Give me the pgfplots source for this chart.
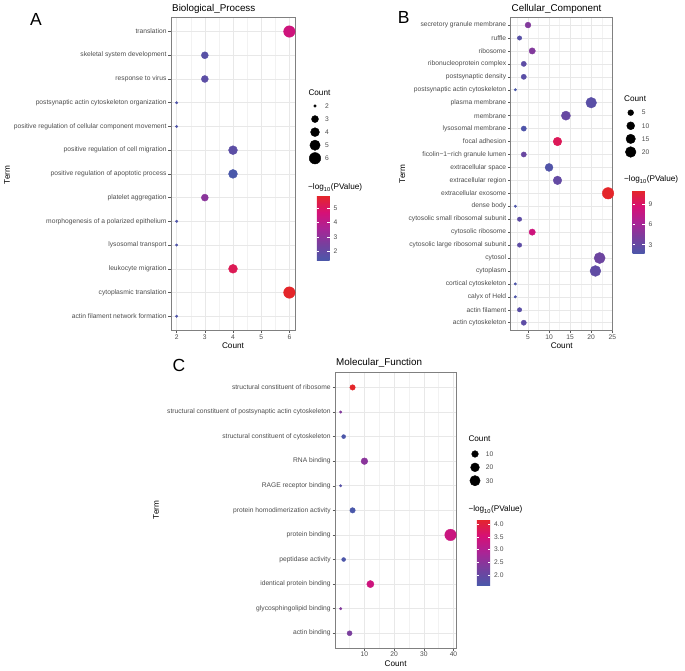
\documentclass[border=0pt]{standalone}
\usepackage{pgfplots}
\pgfplotsset{compat=1.18}
\usepackage{fontspec}
\setmainfont{Liberation Sans}
\usetikzlibrary{calc}

\pgfplotsset{
  colormap={gocol}{rgb255=(74,88,170) rgb255=(118,64,158) rgb255=(170,36,150) rgb255=(214,16,118) rgb255=(228,38,42)},
  gopanel/.style={
    scale only axis, enlargelimits=false, clip=false, anchor=south west,
    axis line style={draw=black!50, line width=0.6pt},
    tick align=outside, xtick pos=bottom, ytick pos=left,
    major tick length=2.7pt, minor tick length=0pt,
    tick style={draw=black!65, line width=0.5pt},
    xmajorgrids, xminorgrids, ymajorgrids,
    major grid style={draw=black!9, line width=0.55pt},
    minor grid style={draw=black!5, line width=0.3pt},
    ticklabel style={font=\fontsize{6.7}{8}\selectfont, text=black!70},
    xticklabel style={anchor=base, inner sep=0pt, yshift=-6pt},
    yticklabel style={anchor=east, inner sep=0pt, xshift=-1.6pt},
    /pgf/number format/assume math mode=true,
    xlabel=Count,
    xlabel style={at={(axis description cs:0.5,0)}, anchor=base, inner sep=0pt, yshift=-18.5pt, font=\fontsize{8.2}{10}\selectfont},
    colormap name=gocol,
  },
  gobar/.style={
    anchor=north west, scale only axis,
    axis line style={draw=none},
    ytick pos=both, yticklabel pos=right,
    tick align=inside, major tick length=2.5pt,
    tick style={draw=white, line width=0.5pt},
    yticklabel style={anchor=west, inner sep=0pt, xshift=3.8pt, font=\fontsize{6.7}{8}\selectfont, text=black!70},
    /pgf/number format/assume math mode=true,
  },
  % dot radius grows with sqrt of the rescaled count, as ggplot's scale_size
  bubblesize/.style 2 args={
    visualization depends on={\thisrow{count} \as \cnt},
    scatter/@pre marker code/.append style={/tikz/mark size={1.25+4.5*sqrt((\cnt-#1)/(#2-#1))}},
  },
  bubbles/.style 2 args={
    scatter, only marks, mark=*,
    scatter/use mapped color={draw=mapped color, fill=mapped color},
    bubblesize={#1}{#2},
  },
  keydots/.style 2 args={
    scatter, only marks, mark=*,
    scatter/use mapped color={draw=black, fill=black},
    bubblesize={#1}{#2},
  },
  sizekey/.style={
    hide axis, scale only axis, clip=false, enlargelimits=false, anchor=north west,
    xmin=0, xmax=1, width=10pt, y dir=reverse,
  },
  keylabels/.style={
    draw=none, mark=none, nodes near coords, point meta=\thisrow{count},
    every node near coord/.style={anchor=west, inner sep=0pt, xshift=#1, font=\fontsize{6.7}{8}\selectfont, text=black!70},
    /pgf/number format/assume math mode=true,
  },
}

\begin{document}
\begin{tikzpicture}
\useasboundingbox (0,0) rectangle (685pt,671pt);

% ---- A: Biological_Process
\begin{axis}[gopanel, at={(171pt,340.5pt)}, width=124pt, height=313.2pt,
  xmin=1.8, xmax=6.2, ymin=0.4, ymax=13.6,
  xtick={2,3,4,5,6}, minor xtick={2.5,3.5,4.5,5.5},
  ytick={1,...,13},
  yticklabels={actin filament network formation, cytoplasmic translation, leukocyte migration, lysosomal transport, morphogenesis of a polarized epithelium, platelet aggregation, positive regulation of apoptotic process, positive regulation of cell migration, positive regulation of cellular component movement, postsynaptic actin cytoskeleton organization, response to virus, skeletal system development, translation},
  point meta min=1.35, point meta max=5.83,
  colorbar, colorbar style={gobar, at={($(parent axis.north east)+(13.3pt,-178.7pt)$)}, width=12.7pt, height=64.7pt, ytick={2,3,4,5}}]
\addplot[bubbles={2}{6}, point meta=\thisrow{p}] table[x=count, y=y] {
y  count p
1  2  1.5
2  6  5.83
3  4  5.2
4  2  1.5
5  2  1.5
6  3  2.9
7  4  1.35
8  4  1.8
9  2  1.5
10 2  1.5
11 3  1.8
12 3  1.7
13 6  4.5
};
\end{axis}

% ---- B: Cellular_Component
\begin{axis}[gopanel, at={(510.7pt,340.5pt)}, width=102pt, height=313.2pt,
  xmin=0.9, xmax=25.1, ymin=0.4, ymax=24.6,
  xtick={5,10,15,20,25}, minor xtick={2.5,7.5,12.5,17.5,22.5},
  ytick={1,...,24},
  yticklabels={actin cytoskeleton, actin filament, calyx of Held, cortical cytoskeleton, cytoplasm, cytosol, cytosolic large ribosomal subunit, cytosolic ribosome, cytosolic small ribosomal subunit, dense body, extracellular exosome, extracellular region, extracellular space, ficolin−1−rich granule lumen, focal adhesion, lysosomal membrane, membrane, plasma membrane, postsynaptic actin cytoskeleton, postsynaptic density, ribonucleoprotein complex, ribosome, ruffle, secretory granule membrane},
  point meta min=1.63, point meta max=11.0,
  colorbar, colorbar style={gobar, at={($(parent axis.north east)+(11.3pt,-173.4pt)$)}, width=12pt, height=63.3pt, ytick={3,6,9}}]
\addplot[bubbles={2}{24}, point meta=\thisrow{p}] table[x=count, y=y] {
y  count p
1  4  2.7
2  3  2.5
3  2  1.8
4  2  1.8
5  21 2.8
6  22 3.5
7  3  2.7
8  6  8.2
9  3  2.7
10 2  1.8
11 24 11.0
12 12 3.0
13 10 2.0
14 4  3.3
15 12 9.6
16 4  1.9
17 14 3.2
18 20 2.5
19 2  1.63
20 4  2.5
21 4  2.7
22 6  4.5
23 3  2.3
24 5  4.5
};
\end{axis}

% ---- C: Molecular_Function
\begin{axis}[gopanel, at={(335.2pt,23pt)}, width=120.8pt, height=275.3pt,
  xmin=0.15, xmax=40.85, ymin=0.4, ymax=11.6,
  xtick={10,20,30,40}, minor xtick={5,15,25,35},
  ytick={1,...,11},
  yticklabels={actin binding, glycosphingolipid binding, identical protein binding, peptidase activity, protein binding, protein homodimerization activity, RAGE receptor binding, RNA binding, structural constituent of cytoskeleton, structural constituent of postsynaptic actin cytoskeleton, structural constituent of ribosome},
  point meta min=1.61, point meta max=4.18,
  colorbar, colorbar style={gobar, at={($(parent axis.north east)+(12.3pt,-146.6pt)$)}, width=13.4pt, height=66pt, ytick={2,2.5,3,3.5,4},
    yticklabel style={/pgf/number format/.cd, fixed, fixed zerofill, precision=1}}]
\addplot[bubbles={2}{39}, point meta=\thisrow{p}] table[x=count, y=y] {
y  count p
1  5  2.3
2  2  2.4
3  12 3.4
4  3  1.65
5  39 3.35
6  6  1.61
7  2  1.8
8  10 2.5
9  3  1.65
10 2  2.4
11 6  4.18
};
\end{axis}

% ---- size keys
\pgfplotstableread{
x   count
0.5 2
0.5 3
0.5 4
0.5 5
0.5 6
}\keyA
\pgfplotstableread{
x   count
0.5 5
0.5 10
0.5 15
0.5 20
}\keyB
\pgfplotstableread{
x   count
0.5 10
0.5 20
0.5 30
}\keyC

\begin{axis}[sizekey, at={(310pt,565pt)}, height=52.3pt, ymin=2, ymax=6]
\addplot[keydots={2}{6}] table[x=x, y=count] {\keyA};
\addplot[keylabels=10pt] table[x=x, y=count] {\keyA};
\end{axis}
\begin{axis}[sizekey, at={(625.7pt,558.3pt)}, height=39.3pt, ymin=5, ymax=20]
\addplot[keydots={2}{24}] table[x=x, y=count] {\keyB};
\addplot[keylabels=11pt] table[x=x, y=count] {\keyB};
\end{axis}
\begin{axis}[sizekey, at={(470pt,217pt)}, height=26.7pt, ymin=10, ymax=30]
\addplot[keydots={2}{39}] table[x=x, y=count] {\keyC};
\addplot[keylabels=10.7pt] table[x=x, y=count] {\keyC};
\end{axis}

% ---- panel letters, titles, axis titles, legend titles
\begin{scope}[every node/.style={inner sep=0pt}]
\node[anchor=base west, font=\fontsize{17.5}{20}\selectfont] at (30pt,645pt) {A};
\node[anchor=base west, font=\fontsize{17.5}{20}\selectfont] at (397.7pt,647pt) {B};
\node[anchor=base west, font=\fontsize{17.5}{20}\selectfont] at (172.3pt,299pt) {C};
\node[anchor=base west, font=\fontsize{9.84}{12}\selectfont] at (172pt,659.5pt) {Biological\_Process};
\node[anchor=base west, font=\fontsize{9.84}{12}\selectfont] at (511.5pt,659.5pt) {Cellular\_Component};
\node[anchor=base west, font=\fontsize{9.84}{12}\selectfont] at (336pt,305pt) {Molecular\_Function};
\node[rotate=90, font=\fontsize{8.2}{10}\selectfont] at (7pt,496pt) {Term};
\node[rotate=90, font=\fontsize{8.2}{10}\selectfont] at (402.3pt,497pt) {Term};
\node[rotate=90, font=\fontsize{8.2}{10}\selectfont] at (156pt,161pt) {Term};
\node[anchor=base west, font=\fontsize{8.2}{10}\selectfont] at (308.3pt,575.7pt) {Count};
\node[anchor=base west, font=\fontsize{8.2}{10}\selectfont] at (308pt,481pt) {−log\textsubscript{10}(PValue)};
\node[anchor=base west, font=\fontsize{8.2}{10}\selectfont] at (624pt,569.7pt) {Count};
\node[anchor=base west, font=\fontsize{8.2}{10}\selectfont] at (624pt,489pt) {−log\textsubscript{10}(PValue)};
\node[anchor=base west, font=\fontsize{8.2}{10}\selectfont] at (468.3pt,229pt) {Count};
\node[anchor=base west, font=\fontsize{8.2}{10}\selectfont] at (468.3pt,159pt) {−log\textsubscript{10}(PValue)};
\end{scope}
\end{tikzpicture}
\end{document}
